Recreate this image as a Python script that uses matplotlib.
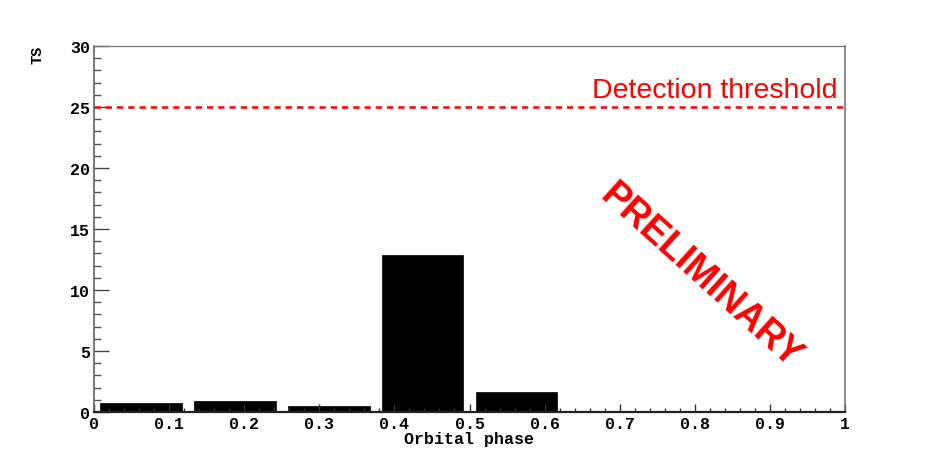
import matplotlib
matplotlib.use("Agg")
import matplotlib.pyplot as plt
import numpy as np
from matplotlib.ticker import MultipleLocator, FuncFormatter

# orbital phase bins (8 bins from 0 to 1) and TS per bin
bin_centers = [0.0625, 0.1875, 0.3125, 0.4375, 0.5625, 0.6875, 0.8125, 0.9375]
ts_values = [0.75, 0.93, 0.49, 12.9, 1.67, 0.0, 0.0, 0.0]
threshold = 25
threshold_label = "Detection threshold"
watermark = "PRELIMINARY"

mono = "Liberation Mono"
sans = "Liberation Sans"

fig = plt.figure(figsize=(9.39, 4.6), dpi=100)
ax = fig.add_axes([94/939, 1-413/460, 751/939, 366/460])

ax.bar(bin_centers, ts_values, width=0.109, color="black", edgecolor="black", linewidth=0.5)

# detection threshold
ax.axhline(threshold, color="red", linestyle=(0, (2.5, 2)), linewidth=1.8)
ax.text(0.99, threshold + 0.3, threshold_label, color="red", fontsize=20.5,
        family=sans, ha="right", va="bottom")

ax.text(0.807, 11.2, watermark, color="red", fontsize=27, fontweight="bold",
        family=sans, rotation=-42, ha="center", va="center", rotation_mode="anchor")

ax.set_xlim(0, 1)
ax.set_ylim(0, 30)

ax.xaxis.set_major_locator(MultipleLocator(0.1))
ax.xaxis.set_minor_locator(MultipleLocator(0.02))
ax.yaxis.set_major_locator(MultipleLocator(5))
ax.yaxis.set_minor_locator(MultipleLocator(1))
ax.xaxis.set_major_formatter(FuncFormatter(lambda v, p: "%g" % round(v, 2)))

ax.tick_params(axis="x", which="major", direction="in", length=6, width=1, color="#333333", pad=3)
ax.tick_params(axis="x", which="minor", direction="in", length=3, width=1, color="#333333")
ax.tick_params(axis="y", which="major", direction="in", length=11, width=1, color="#444444", pad=3)
ax.tick_params(axis="y", which="minor", direction="in", length=5, width=1, color="#555555")
for lab in ax.get_xticklabels() + ax.get_yticklabels():
    lab.set_family(mono)
    lab.set_fontweight("bold")
    lab.set_fontsize(12)

ax.spines["bottom"].set_color("#222222")
ax.spines["bottom"].set_linewidth(1.6)
ax.spines["left"].set_color("#555555")
ax.spines["left"].set_linewidth(1.1)
ax.spines["top"].set_color("#777777")
ax.spines["top"].set_linewidth(0.9)
ax.spines["right"].set_color("#777777")
ax.spines["right"].set_linewidth(1.2)

ax.set_xlabel("Orbital phase", family=mono, fontweight="bold", fontsize=12, labelpad=0)
fig.text(37/939, 1-46/460, "TS", family=mono, fontweight="bold", fontsize=11,
         rotation=90, ha="center", va="top")

fig.savefig("out.png", dpi=100)
